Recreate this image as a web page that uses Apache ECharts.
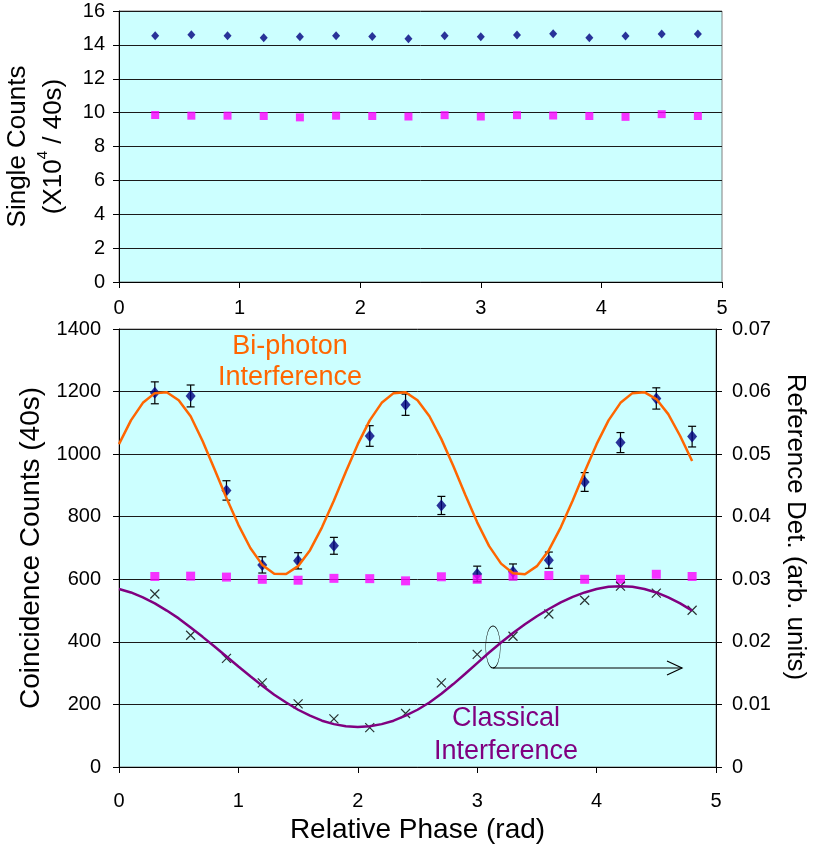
<!DOCTYPE html>
<html>
<head>
<meta charset="utf-8">
<script src="https://cdn.jsdelivr.net/npm/echarts@6/dist/echarts.min.js"></script>
<style>
  html, body { margin: 0; padding: 0; background: #ffffff; }
  #chart { width: 817px; height: 844px; }
</style>
</head>
<body>
<div id="chart"></div>
<script>
// ---------- data ----------
const phase = [0.3, 0.6, 0.9, 1.2, 1.5, 1.8, 2.1, 2.4, 2.7, 3.0, 3.3, 3.6, 3.9, 4.2, 4.5, 4.8];

// top panel: single counts (x10^4 / 40 s)
const singlesA = [14.54, 14.6, 14.54, 14.42, 14.48, 14.54, 14.5, 14.36, 14.54, 14.48, 14.58, 14.66, 14.42, 14.52, 14.64, 14.64];
const singlesB = [9.86, 9.82, 9.82, 9.8, 9.72, 9.82, 9.8, 9.77, 9.85, 9.77, 9.85, 9.83, 9.8, 9.75, 9.91, 9.8];

// bottom panel: coincidence counts (40 s) with error bars
const coincidence = [1196, 1186, 884, 646, 659, 707, 1058, 1158, 836, 617, 624, 661, 911, 1037, 1178, 1056];
const coincErr = [35, 35, 31, 26, 26, 27, 33, 34, 29, 25, 25, 26, 30, 32, 34, 33];
const coincSquares = [609, 610, 607, 600, 597, 603, 602, 595, 608, 600, 610, 612, 600, 600, 616, 609];

// reference detector (arb. units, right axis)
const referenceDet = [0.02765, 0.02105, 0.01735, 0.01345, 0.0101, 0.0077, 0.0063, 0.00855, 0.01345, 0.018, 0.0209, 0.02445, 0.02665, 0.0289, 0.0278, 0.02505];

// fitted curves
const curveX = [0, 0.1, 0.2, 0.3, 0.4, 0.5, 0.6, 0.7, 0.8, 0.9, 1.0, 1.1, 1.2, 1.3, 1.4, 1.5, 1.6, 1.7, 1.8, 1.9,
  2.0, 2.1, 2.2, 2.3, 2.4, 2.5, 2.6, 2.7, 2.8, 2.9, 3.0, 3.1, 3.2, 3.3, 3.4, 3.5, 3.6, 3.7, 3.8, 3.9,
  4.0, 4.1, 4.2, 4.3, 4.4, 4.5, 4.6, 4.7, 4.8];
const biphotonFit = [1032, 1108, 1164, 1195, 1198, 1172, 1121, 1042, 952, 860, 774, 700, 646, 618, 617, 642, 693, 766, 852, 944,
  1032, 1108, 1164, 1195, 1198, 1172, 1121, 1048, 962, 870, 782, 706, 650, 619, 616, 642, 693, 766, 852, 944,
  1032, 1108, 1164, 1195, 1198, 1176, 1128, 1058, 978];
const classicalFit = [0.02845, 0.0279, 0.0271, 0.02615, 0.025, 0.02375, 0.0223, 0.0208, 0.01925, 0.01765, 0.01605, 0.0145, 0.013, 0.01155, 0.0103, 0.00915, 0.0082, 0.0074, 0.00685, 0.0065,
  0.0064, 0.0065, 0.00685, 0.0074, 0.0082, 0.00915, 0.0103, 0.0117, 0.01325, 0.0149, 0.0166, 0.0183, 0.0199, 0.0214, 0.0228, 0.0241, 0.02525, 0.0263, 0.0272, 0.0279,
  0.02845, 0.0288, 0.0289, 0.0288, 0.02845, 0.0279, 0.0271, 0.02615, 0.025];

// axis ticks
const xTicks = { min: 0, max: 5, interval: 1 };
const topYTicks = { min: 0, max: 16, interval: 2 };
const leftYTicks = { min: 0, max: 1400, interval: 200 };
const rightYTicks = { min: 0, max: 0.07, interval: 0.01 };

// ---------- chart ----------
const FONT = "'Liberation Sans', Arial, sans-serif";
const BG = '#CCFFFF';
const NAVY = '#000080';
const MAGENTA = '#FF00FF';
const ORANGE = '#FF6600';
const PURPLE = '#800080';

const zip = (xs, ys) => xs.map((x, i) => [x, ys[i]]);

const chart = echarts.init(document.getElementById('chart'), null, { renderer: 'canvas' });

const axisLineStyle = { show: true, lineStyle: { color: '#000', width: 1 } };
const tickStyle = { show: true, length: 6, lineStyle: { color: '#000', width: 1 } };
const labelStyle = (margin) => ({
  color: '#000', fontSize: 20, fontFamily: FONT, margin: margin,
  formatter: (v) => String(+v.toFixed(4))
});

const option = {
  animation: false,
  backgroundColor: '#ffffff',
  textStyle: { fontFamily: FONT },
  grid: [
    { left: 119, top: 11, width: 603, height: 271, show: true, backgroundColor: BG, borderColor: '#808080', borderWidth: 1, containLabel: false, outerBoundsMode: 'none' },
    { left: 119, top: 329, width: 597, height: 438, show: true, backgroundColor: BG, borderColor: '#808080', borderWidth: 1, containLabel: false, outerBoundsMode: 'none' }
  ],
  xAxis: [
    {
      type: 'value', gridIndex: 0, min: xTicks.min, max: xTicks.max, interval: xTicks.interval,
      axisLine: axisLineStyle, axisTick: tickStyle, axisLabel: labelStyle(16), splitLine: { show: false }
    },
    {
      type: 'value', gridIndex: 1, min: xTicks.min, max: xTicks.max, interval: xTicks.interval,
      axisLine: axisLineStyle, axisTick: tickStyle, axisLabel: labelStyle(24), splitLine: { show: false },
      name: 'Relative Phase (rad)', nameLocation: 'middle', nameGap: 47,
      nameTextStyle: { color: '#000', fontSize: 28, fontFamily: FONT }
    }
  ],
  yAxis: [
    {
      type: 'value', gridIndex: 0, min: topYTicks.min, max: topYTicks.max, interval: topYTicks.interval,
      axisLine: axisLineStyle, axisTick: tickStyle, axisLabel: labelStyle(14),
      splitLine: { show: true, lineStyle: { color: '#1a1a1a', width: 1 } },
      name: '{a|Single Counts}\n{a|(X10}{s|4}{a| / 40s)}',
      nameLocation: 'middle', nameGap: 39,
      nameTextStyle: {
        color: '#000', fontSize: 26, fontFamily: FONT, lineHeight: 36,
        rich: {
          a: { fontSize: 26, fontFamily: FONT, color: '#000', lineHeight: 36 },
          s: { fontSize: 15, fontFamily: FONT, color: '#000', lineHeight: 36, verticalAlign: 'top', padding: [0, 0, 10, 0] }
        }
      }
    },
    {
      type: 'value', gridIndex: 1, position: 'left', min: leftYTicks.min, max: leftYTicks.max, interval: leftYTicks.interval,
      axisLine: axisLineStyle, axisTick: tickStyle, axisLabel: labelStyle(18),
      splitLine: { show: true, lineStyle: { color: '#1a1a1a', width: 1 } },
      name: 'Coincidence Counts (40s)', nameLocation: 'middle', nameGap: 71,
      nameTextStyle: { color: '#000', fontSize: 28, fontFamily: FONT }
    },
    {
      type: 'value', gridIndex: 1, position: 'right', min: rightYTicks.min, max: rightYTicks.max, interval: rightYTicks.interval,
      axisLine: axisLineStyle, axisTick: tickStyle, axisLabel: labelStyle(16),
      splitLine: { show: false },
      name: 'Reference Det. (arb. units)', nameLocation: 'middle', nameGap: 66, nameRotate: -90,
      nameTextStyle: { color: '#000', fontSize: 26, fontFamily: FONT, padding: [0, 42, 0, 0] }
    }
  ],
  series: [
    {
      name: 'Singles A', type: 'scatter', xAxisIndex: 0, yAxisIndex: 0,
      data: zip(phase, singlesA), symbol: 'diamond', symbolSize: [8, 9],
      itemStyle: { color: NAVY }
    },
    {
      name: 'Singles B', type: 'scatter', xAxisIndex: 0, yAxisIndex: 0,
      data: zip(phase, singlesB), symbol: 'rect', symbolSize: 8,
      itemStyle: { color: MAGENTA }
    },
    {
      name: 'Bi-photon fit', type: 'line', xAxisIndex: 1, yAxisIndex: 1,
      data: zip(curveX, biphotonFit), smooth: false, showSymbol: false,
      lineStyle: { color: ORANGE, width: 2.5 }
    },
    {
      name: 'Classical fit', type: 'line', xAxisIndex: 1, yAxisIndex: 2,
      data: zip(curveX, classicalFit), smooth: false, showSymbol: false,
      lineStyle: { color: PURPLE, width: 2.5 }
    },
    {
      name: 'Error bars', type: 'custom', xAxisIndex: 1, yAxisIndex: 1,
      data: phase.map((x, i) => [x, coincidence[i] - coincErr[i], coincidence[i] + coincErr[i]]),
      encode: { x: 0, y: [1, 2] },
      renderItem: function (params, api) {
        const lo = api.coord([api.value(0), api.value(1)]);
        const hi = api.coord([api.value(0), api.value(2)]);
        const cap = 4;
        const st = { stroke: '#000', lineWidth: 1.2 };
        return {
          type: 'group',
          children: [
            { type: 'line', shape: { x1: lo[0], y1: lo[1], x2: hi[0], y2: hi[1] }, style: st },
            { type: 'line', shape: { x1: lo[0] - cap, y1: lo[1], x2: lo[0] + cap, y2: lo[1] }, style: st },
            { type: 'line', shape: { x1: hi[0] - cap, y1: hi[1], x2: hi[0] + cap, y2: hi[1] }, style: st }
          ]
        };
      }
    },
    {
      name: 'Coincidence', type: 'scatter', xAxisIndex: 1, yAxisIndex: 1,
      data: zip(phase, coincidence), symbol: 'diamond', symbolSize: [10, 12],
      itemStyle: { color: NAVY }
    },
    {
      name: 'Coincidence B', type: 'scatter', xAxisIndex: 1, yAxisIndex: 1,
      data: zip(phase, coincSquares), symbol: 'rect', symbolSize: 9,
      itemStyle: { color: MAGENTA }
    },
    {
      name: 'Reference', type: 'scatter', xAxisIndex: 1, yAxisIndex: 2,
      data: zip(phase, referenceDet), symbol: 'path://M0,0L10,10M10,0L0,10', symbolSize: 9,
      itemStyle: { color: 'none', borderColor: '#000', borderWidth: 1.2 }
    }
  ],
  graphic: [
    { type: 'text', x: 290, y: 347, style: { text: 'Bi-photon', fill: ORANGE, font: '27px ' + FONT, align: 'center', verticalAlign: 'middle' } },
    { type: 'text', x: 290, y: 378, style: { text: 'Interference', fill: ORANGE, font: '27px ' + FONT, align: 'center', verticalAlign: 'middle' } },
    { type: 'text', x: 506, y: 719, style: { text: 'Classical', fill: PURPLE, font: '27px ' + FONT, align: 'center', verticalAlign: 'middle' } },
    { type: 'text', x: 506, y: 752, style: { text: 'Interference', fill: PURPLE, font: '27px ' + FONT, align: 'center', verticalAlign: 'middle' } },
    { type: 'circle', x: 493, y: 647, scaleX: 0.35, shape: { cx: 0, cy: 0, r: 21 }, style: { fill: 'none', stroke: '#000', lineWidth: 1.2, strokeNoScale: true } },
    { type: 'line', shape: { x1: 493, y1: 668, x2: 682, y2: 668 }, style: { stroke: '#000', lineWidth: 1.2 } },
    { type: 'polyline', shape: { points: [[667, 661], [682, 668], [667, 675]] }, style: { fill: 'none', stroke: '#000', lineWidth: 1.2 } }
  ]
};

chart.setOption(option);
</script>
</body>
</html>
